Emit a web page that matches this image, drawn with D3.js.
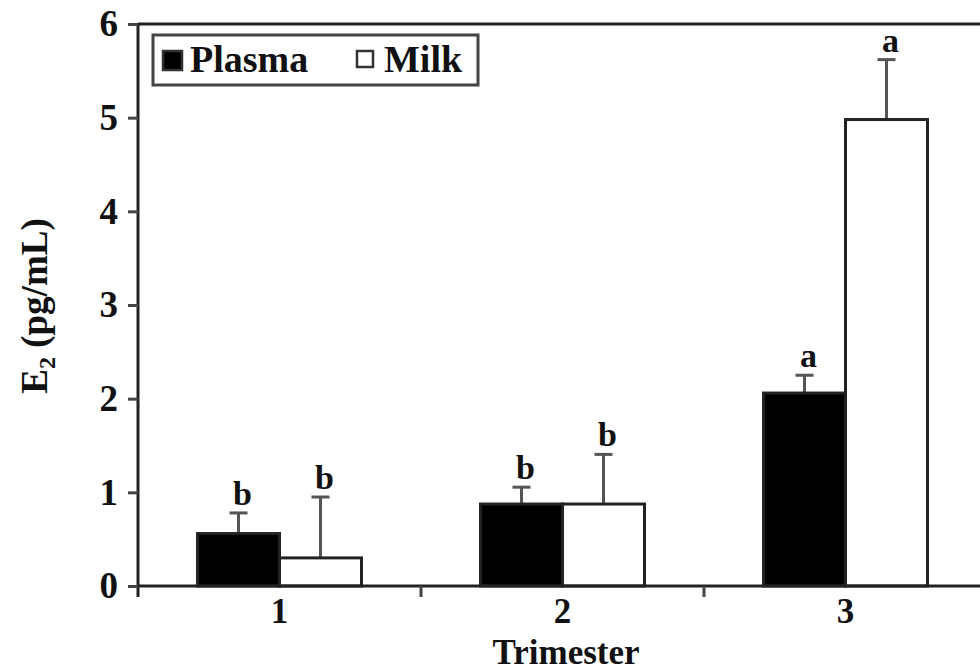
<!DOCTYPE html>
<html><head><meta charset="utf-8">
<script src="https://cdn.jsdelivr.net/npm/d3@7"></script>
<style>body{margin:0;background:#fff}text{font-family:"Liberation Serif","Times New Roman",serif;font-weight:bold}</style>
</head><body><svg id="c" width="980" height="672"></svg>
<script>
const categories = ["1","2","3"];
const seriesNames = ["Plasma","Milk"];
const plasma = [0.56, 0.875, 2.06];
const plasmaErr = [0.22, 0.18, 0.19];
const milk = [0.30, 0.875, 4.98];
const milkErr = [0.65, 0.53, 0.64];
const plasmaLetters = ["b","b","a"];
const milkLetters = ["b","b","a"];
const yTicks = [0,1,2,3,4,5,6];

const svg = d3.select("#c");
const x0 = 138, y0 = 586, yTop = 24;
const x = d3.scaleBand().domain(categories).range([x0, x0 + 3*283]).paddingInner(0).paddingOuter(0);
const y = d3.scaleLinear().domain([0,6]).range([y0, yTop]);
const barW = 82;
const data = categories.map((c,i)=>[
  {cat:c, s:"Plasma", v:plasma[i], e:plasmaErr[i], l:plasmaLetters[i], off:-barW, fill:"#000"},
  {cat:c, s:"Milk", v:milk[i], e:milkErr[i], l:milkLetters[i], off:0, fill:"#fff"}
]).flat();
const cx = c => x(c) + x.bandwidth()/2;

// error bars
const eb = svg.append("g").attr("stroke","#555").attr("stroke-width",3);
data.forEach(d=>{
  const bx = cx(d.cat) + d.off + barW/2;
  eb.append("line").attr("x1",bx).attr("x2",bx).attr("y1",y(d.v)).attr("y2",y(d.v+d.e));
  eb.append("line").attr("x1",bx-9).attr("x2",bx+9).attr("y1",y(d.v+d.e)).attr("y2",y(d.v+d.e));
});
// bars
svg.append("g").selectAll("rect").data(data).join("rect")
  .attr("x",d=>cx(d.cat)+d.off).attr("width",barW)
  .attr("y",d=>y(d.v)).attr("height",d=>y0-y(d.v))
  .attr("fill",d=>d.fill).attr("stroke","#222").attr("stroke-width",3);
// letters
svg.append("g").selectAll("text").data(data).join("text")
  .attr("x",d=>cx(d.cat)+d.off+barW/2+4).attr("y",d=>y(d.v+d.e)-8)
  .attr("text-anchor","middle").attr("font-size",34).attr("fill","#111").text(d=>d.l);

// y axis
const ya = svg.append("g").attr("transform",`translate(${x0},0)`)
  .call(d3.axisLeft(y).tickValues(yTicks).tickSize(10).tickPadding(10).tickFormat(d3.format("d")));
ya.select(".domain").attr("d",`M0,${yTop}V${y0+11}`).attr("stroke","#222").attr("stroke-width",3);
ya.selectAll(".tick line").attr("stroke","#444").attr("stroke-width",3);
ya.selectAll(".tick text").attr("font-size",37).attr("fill","#111");

// x axis
const xa = svg.append("g").attr("transform",`translate(0,${y0})`)
  .call(d3.axisBottom(x).tickSize(0).tickPadding(12));
xa.select(".domain").attr("d",`M${x0},0H980`).attr("stroke","#222").attr("stroke-width",3);
xa.selectAll(".tick text").attr("font-size",35).attr("fill","#111");
// category separator ticks
svg.append("g").selectAll("line").data(categories.slice(1)).join("line")
  .attr("x1",d=>x(d)).attr("x2",d=>x(d)).attr("y1",y0).attr("y2",y0+11)
  .attr("stroke","#444").attr("stroke-width",3);
// top border
svg.append("line").attr("x1",x0).attr("x2",980).attr("y1",yTop).attr("y2",yTop).attr("stroke","#222").attr("stroke-width",3);

// axis titles
svg.append("text").attr("x",566).attr("y",664).attr("text-anchor","middle").attr("font-size",35).attr("fill","#111").text("Trimester");
const yl = svg.append("text").attr("transform","translate(47,306) rotate(-90)").attr("text-anchor","middle").attr("font-size",37).attr("fill","#111");
yl.append("tspan").text("E");
yl.append("tspan").attr("font-size",24).attr("dy",8).text("2");
yl.append("tspan").attr("dy",-8).text(" (pg/mL)");

// legend
const lg = svg.append("g");
lg.append("rect").attr("x",153).attr("y",35).attr("width",325).attr("height",50).attr("fill","#fff").attr("stroke","#444").attr("stroke-width",3);
const items = [{n:seriesNames[0],fill:"#000",x:163,s:19},{n:seriesNames[1],fill:"#fff",x:357,s:16}];
items.forEach(it=>{
  lg.append("rect").attr("x",it.x).attr("y",51).attr("width",it.s).attr("height",it.s).attr("fill",it.fill).attr("stroke","#333").attr("stroke-width",2.5);
  lg.append("text").attr("x",it.x+27).attr("y",72).attr("font-size",38).attr("fill","#111").text(it.n);
});
</script></body></html>
